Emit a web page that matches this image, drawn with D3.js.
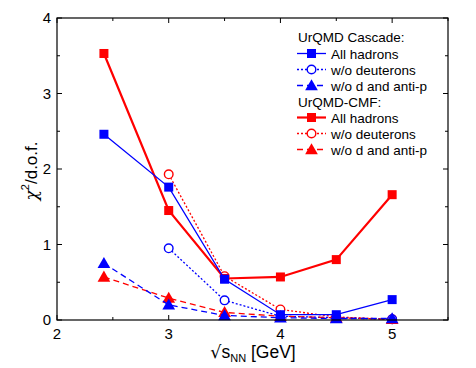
<!DOCTYPE html>
<html>
<head>
<script src="https://d3js.org/d3.v7.min.js"></script>
<style>
  body { margin: 0; background: #fff; }
  text { font-family: "Liberation Sans", Arial, sans-serif; }
</style>
</head>
<body>
<div id="chart"></div>
<script>
// energies (GeV)
const energies = [2.42, 3.0, 3.5, 4.0, 4.5, 5.0];

// chi^2/d.o.f. values
const cascadeAll   = [2.46, 1.76, 0.54, 0.07, 0.07, 0.27];
const cascadeNoD   = [null, 0.95, 0.26, 0.05, 0.03, 0.01];
const cascadeNoDP  = [0.75, 0.20, 0.06, 0.03, 0.02, 0.02];
const cmfAll       = [3.53, 1.45, 0.55, 0.57, 0.80, 1.66];
const cmfNoD       = [null, 1.93, 0.58, 0.14, 0.04, 0.01];
const cmfNoDP      = [0.57, 0.29, 0.10, 0.05, 0.03, 0.01];

const xTicks = [2, 3, 4, 5];
const yTicks = [0, 1, 2, 3, 4];

const width = 476, height = 368;
const marginLeft = 57, marginRight = 28, marginTop = 18, marginBottom = 48;

const x = d3.scaleLinear().domain([2, 5.5]).range([marginLeft, width - marginRight]);
const y = d3.scaleLinear().domain([0, 4]).range([height - marginBottom, marginTop]);

const svg = d3.select("#chart").append("svg")
  .attr("width", width).attr("height", height);

const blue = "#0000ff", red = "#ff0000";

const series = [
  {name: "All hadrons",      vals: cascadeAll,  color: blue, dash: null,  sym: "square",   sw: 1.3},
  {name: "w/o deuterons",    vals: cascadeNoD,  color: blue, dash: "2,2", sym: "circle",   sw: 1.3},
  {name: "w/o d and anti-p", vals: cascadeNoDP, color: blue, dash: "6,4", sym: "triangle", sw: 1.3},
  {name: "All hadrons",      vals: cmfAll,      color: red,  dash: null,  sym: "square",   sw: 2.2},
  {name: "w/o deuterons",    vals: cmfNoD,      color: red,  dash: "2,2", sym: "circle",   sw: 1.3},
  {name: "w/o d and anti-p", vals: cmfNoDP,     color: red,  dash: "6,4", sym: "triangle", sw: 1.3}
];

// ticks (inside the frame)
const axisG = svg.append("g").attr("stroke", "#000").attr("stroke-width", 1);
const xMinor = d3.range(2, 5.51, 0.5);
const yMinor = d3.range(0, 4.01, 0.5);
xMinor.forEach(v => {
  const len = Number.isInteger(v) ? 5 : 3;
  axisG.append("line").attr("x1", x(v)).attr("x2", x(v)).attr("y1", y(0)).attr("y2", y(0) - len);
  axisG.append("line").attr("x1", x(v)).attr("x2", x(v)).attr("y1", y(4)).attr("y2", y(4) + len);
});
yMinor.forEach(v => {
  const len = Number.isInteger(v) ? 5 : 3;
  axisG.append("line").attr("x1", x(2)).attr("x2", x(2) + len).attr("y1", y(v)).attr("y2", y(v));
  axisG.append("line").attr("x1", x(5.5)).attr("x2", x(5.5) - len).attr("y1", y(v)).attr("y2", y(v));
});

// tick labels
svg.append("g").selectAll("text").data(xTicks).join("text")
  .attr("x", d => x(d)).attr("y", y(0) + 19)
  .attr("text-anchor", "middle").attr("font-size", 15).text(d => d);
svg.append("g").selectAll("text").data(yTicks).join("text")
  .attr("x", x(2) - 6).attr("y", d => y(d) + 5)
  .attr("text-anchor", "end").attr("font-size", 15).text(d => d);

// axis titles
const yl = svg.append("text")
  .attr("transform", `translate(37,${(marginTop + height - marginBottom) / 2 + 2}) rotate(-90)`)
  .attr("text-anchor", "middle").attr("font-size", 17);
yl.append("tspan").attr("font-family", "DejaVu Serif").attr("font-style", "italic").text("χ");
yl.append("tspan").attr("font-size", 11).attr("dy", -8).text("2");
yl.append("tspan").attr("dy", 8).text("/d.o.f.");

const xl = svg.append("text")
  .attr("x", 253).attr("y", 358)
  .attr("text-anchor", "middle").attr("font-size", 17.5);
xl.append("tspan").attr("font-family", "DejaVu Sans").text("√");
xl.append("tspan").text("s");
xl.append("tspan").attr("font-size", 11).attr("dy", 4).text("NN");
xl.append("tspan").attr("dy", -4).text(" [GeV]");

// marker drawing
function marker(g, sym, color, cx, cy) {
  if (sym === "square") {
    g.append("rect").attr("x", cx - 4.5).attr("y", cy - 4.5).attr("width", 9).attr("height", 9).attr("fill", color);
  } else if (sym === "circle") {
    g.append("circle").attr("cx", cx).attr("cy", cy).attr("r", 4.3)
      .attr("fill", "#fff").attr("stroke", color).attr("stroke-width", 1.4);
  } else {
    g.append("path").attr("d", d3.symbol(d3.symbolTriangle, 70)()).attr("transform", `translate(${cx},${cy + 1})`)
      .attr("fill", color);
  }
}

const line = d3.line().defined(d => d[1] !== null).x(d => x(d[0])).y(d => y(d[1]));

// draw order: circles, triangles, then main lines
const order = [4, 1, 5, 2, 3, 0];
order.forEach(i => {
  const s = series[i];
  const pts = energies.map((e, k) => [e, s.vals[k]]);
  const g = svg.append("g");
  g.append("path").datum(pts).attr("d", line).attr("fill", "none")
    .attr("stroke", s.color).attr("stroke-width", s.sw)
    .attr("stroke-dasharray", s.dash);
  pts.filter(p => p[1] !== null).forEach(p => marker(g, s.sym, s.color, x(p[0]), y(p[1])));
});

// frame
svg.append("rect").attr("x", x(2)).attr("y", y(4)).attr("width", x(5.5) - x(2)).attr("height", y(0) - y(4))
  .attr("fill", "none").attr("stroke", "#000").attr("stroke-width", 1.2);

// legend
const leg = svg.append("g").attr("font-size", 13.5);
const lx = 298, tx = 331;
const rowsY = [37, 53.5, 69.5, 85.5, 101.5, 117.5, 133.5, 149.5];
leg.append("text").attr("x", lx).attr("y", rowsY[0] + 5).text("UrQMD Cascade:");
leg.append("text").attr("x", lx).attr("y", rowsY[4] + 5).text("UrQMD-CMF:");
series.forEach((s, i) => {
  const ry = rowsY[i < 3 ? i + 1 : i + 2];
  leg.append("line").attr("x1", lx - 1).attr("x2", lx + 28).attr("y1", ry).attr("y2", ry)
    .attr("stroke", s.color).attr("stroke-width", s.sw).attr("stroke-dasharray", s.dash);
  marker(leg, s.sym, s.color, lx + 13.5, ry);
  leg.append("text").attr("x", tx).attr("y", ry + 5).text(s.name);
});
</script>
</body>
</html>
